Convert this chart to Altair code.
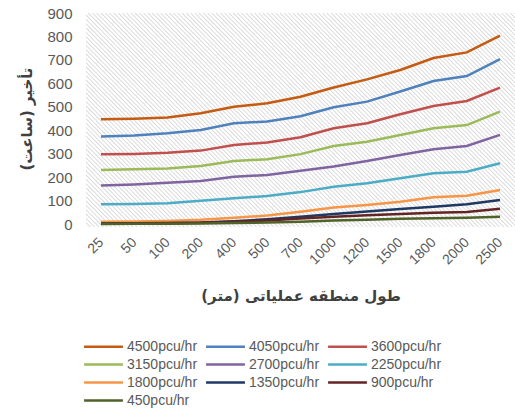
import altair as alt
import pandas as pd

lengths = ["25", "50", "100", "200", "400", "500", "700", "1000", "1200", "1500", "1800", "2000", "2500"]

s4500 = [447, 449, 454, 472, 500, 515, 543, 582, 617, 657, 708, 732, 803]
s4050 = [373, 377, 387, 401, 430, 437, 460, 498, 522, 565, 610, 631, 703]
s3600 = [297, 299, 304, 313, 337, 348, 370, 408, 430, 468, 503, 525, 582]
s3150 = [230, 233, 237, 247, 269, 276, 298, 333, 351, 380, 408, 422, 479]
s2700 = [164, 169, 176, 183, 202, 209, 227, 245, 269, 294, 319, 333, 380]
s2250 = [84, 85, 88, 99, 110, 119, 136, 159, 174, 195, 216, 223, 259]
s1800 = [10, 11, 13, 18, 27, 36, 52, 70, 81, 95, 114, 121, 145]
s1350 = [2, 3, 4, 6, 12, 20, 31, 43, 53, 64, 74, 84, 102]
s900 = [1, 2, 3, 5, 10, 15, 23, 31, 37, 43, 48, 51, 65]
s450 = [0, 1, 1, 2, 4, 6, 10, 15, 18, 22, 25, 27, 31]

series_names = ["4500pcu/hr", "4050pcu/hr", "3600pcu/hr", "3150pcu/hr", "2700pcu/hr",
                "2250pcu/hr", "1800pcu/hr", "1350pcu/hr", "900pcu/hr", "450pcu/hr"]
series_vals = [s4500, s4050, s3600, s3150, s2700, s2250, s1800, s1350, s900, s450]
colors = ["#C55A11", "#4F81BD", "#C0504D", "#9BBB59", "#8064A2",
          "#4BACC6", "#F79646", "#1F3864", "#632523", "#4F6228"]

rows = []
for name, vals in zip(series_names, series_vals):
    for L, v in zip(lengths, vals):
        rows.append({"length": L, "delay": v, "series": name})
df = pd.DataFrame(rows)

W, H = 429, 211

# diagonal hatch background as a striped gradient
stops = []
n = 150
for i in range(n):
    a = i / n
    stops.append({"offset": a, "color": "#d9d9d9"})
    stops.append({"offset": a + 0.35 / n, "color": "#ffffff"})
    stops.append({"offset": a + 0.75 / n, "color": "#ffffff"})
stops.append({"offset": 1.0, "color": "#d9d9d9"})
hatch = alt.LinearGradient(gradient="linear", x1=0, y1=1, x2=1.2, y2=0.41, stops=stops)

bg = alt.Chart(pd.DataFrame({"k": [0]})).mark_rect(color=hatch).encode(
    x=alt.value(0), x2=alt.value(W), y=alt.value(0), y2=alt.value(H + 3)
)

lines = alt.Chart(df).mark_line(strokeWidth=2.5).encode(
    x=alt.X("length:N", sort=lengths, scale=alt.Scale(type="point", padding=0.45),
            axis=alt.Axis(title="طول منطقه عملیاتی (متر)", labelAngle=-45, labelAlign="right",
                          labelBaseline="middle", labelPadding=16, labelFontSize=14,
                          labelColor="#595959", ticks=False, domain=False,
                          titleFontSize=15, titleFont="DejaVu Sans", titleFontWeight="bold",
                          titleColor="#404040", titlePadding=22, labelFont="Liberation Sans")),
    y=alt.Y("delay:Q", scale=alt.Scale(domain=[0, 900]),
            axis=alt.Axis(title="تأخیر (ساعت)", values=list(range(0, 901, 100)), labelFontSize=15,
                          labelColor="#595959", ticks=False, domain=False, labelPadding=14,
                          grid=False, labelFont="Liberation Sans",
                          titleFontSize=15, titleFont="DejaVu Sans", titleFontWeight="bold",
                          titleColor="#404040", titlePadding=12)),
    color=alt.Color("series:N", sort=series_names,
                    scale=alt.Scale(domain=series_names, range=colors),
                    legend=alt.Legend(title=None, orient="none", legendX=7, legendY=323,
                                      direction="horizontal", columns=3,
                                      symbolType="M-2.1,0H2.1", symbolSize=342,
                                      symbolStrokeWidth=2.5, symbolFillColor="transparent",
                                      labelFontSize=14, labelColor="#595959",
                                      labelFont="Liberation Sans", rowPadding=0, columnPadding=3,
                                      labelOffset=13, padding=0)),
)

chart = alt.layer(bg, lines).properties(
    width=W, height=H,
    padding={"left": 86, "top": 13, "right": 0, "bottom": 190},
    autosize=alt.AutoSizeParams(type="none"),
).configure_view(stroke=None)

chart.save("out.html", embed_options={"renderer": "svg", "actions": False})
